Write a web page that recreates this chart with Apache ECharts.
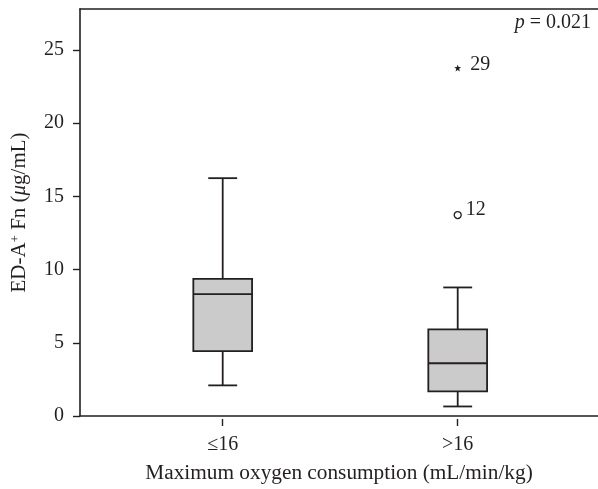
<!DOCTYPE html>
<html><head><meta charset="utf-8">
<script src="https://cdn.jsdelivr.net/npm/echarts@6/dist/echarts.min.js"></script>
<style>html,body{margin:0;padding:0;background:#fff}#c{width:598px;height:489px}</style>
</head><body><div id="c"></div>
<script>
const categories = ['≤16', '>16'];
const whiskerLow = [2.28, 0.85];
const q1 = [4.6, 1.87];
const median = [8.47, 3.78];
const q3 = [9.5, 6.08];
const whiskerHigh = [16.33, 8.92];
const outlierCircle = [{ value: [1, 13.83], name: '12' }];
const outlierStar = [{ value: [1, 23.8], name: '29' }];
const yTicks = [0, 5, 10, 15, 20, 25];
const yMax = 27.8;
const pValue = '0.021';

const FONT = '"Liberation Serif", "Times New Roman", serif';
const INK = '#231f20';

function renderBox(params, api) {
  const x = api.value(0);
  const lo = api.coord([x, api.value(1)]);
  const b = api.coord([x, api.value(2)]);
  const m = api.coord([x, api.value(3)]);
  const t = api.coord([x, api.value(4)]);
  const hi = api.coord([x, api.value(5)]);
  const band = api.size([1, 0])[0];
  const bw = band * 0.25, cw = band * 0.123;
  const cx = lo[0];
  const ls = { stroke: INK, lineWidth: 1.8, fill: null };
  return {
    type: 'group', children: [
      { type: 'line', shape: { x1: cx, y1: t[1], x2: cx, y2: hi[1] }, style: ls },
      { type: 'line', shape: { x1: cx, y1: b[1], x2: cx, y2: lo[1] }, style: ls },
      { type: 'line', shape: { x1: cx - cw / 2, y1: hi[1], x2: cx + cw / 2, y2: hi[1] }, style: ls },
      { type: 'line', shape: { x1: cx - cw / 2, y1: lo[1], x2: cx + cw / 2, y2: lo[1] }, style: ls },
      { type: 'rect', shape: { x: cx - bw / 2, y: t[1], width: bw, height: b[1] - t[1] },
        style: { fill: '#cbcbcb', stroke: INK, lineWidth: 1.8 } },
      { type: 'line', shape: { x1: cx - bw / 2, y1: m[1], x2: cx + bw / 2, y2: m[1] }, style: ls }
    ]
  };
}

const chart = echarts.init(document.getElementById('c'), null, { renderer: 'canvas' });
chart.setOption({
  animation: false,
  backgroundColor: '#fff',
  textStyle: { fontFamily: FONT, color: INK },
  grid: [
    { left: 80, right: 0, top: 9, bottom: 70 },
    { left: 105.2, right: 22.8, top: 9, bottom: 70 }
  ],
  xAxis: [
    { gridIndex: 0, type: 'value', min: 0, max: 1, position: 'bottom',
      axisLine: { show: true, lineStyle: { color: INK, width: 1.6 } },
      axisTick: { show: false }, axisLabel: { show: false }, splitLine: { show: false },
      name: 'Maximum oxygen consumption (mL/min/kg)', nameLocation: 'middle', nameGap: 47,
      nameTextStyle: { fontFamily: FONT, fontSize: 21.3, color: INK } },
    { gridIndex: 0, type: 'value', min: 0, max: 1, position: 'top',
      axisLine: { show: true, lineStyle: { color: INK, width: 1.6 } },
      axisTick: { show: false }, axisLabel: { show: false }, splitLine: { show: false } },
    { gridIndex: 1, type: 'category', data: categories, position: 'bottom',
      axisLine: { show: false },
      axisTick: { show: true, alignWithLabel: true, length: 7, lineStyle: { color: INK, width: 1.4 } },
      axisLabel: { fontFamily: FONT, fontSize: 20, color: INK, margin: 16 },
      splitLine: { show: false } }
  ],
  yAxis: [
    { gridIndex: 0, type: 'value', min: 0, max: yMax,
      axisLine: { show: true, lineStyle: { color: INK, width: 1.6 } },
      axisTick: { show: true, length: 7, customValues: yTicks, lineStyle: { color: INK, width: 1.4 } },
      axisLabel: { fontFamily: FONT, fontSize: 20, color: INK, margin: 16, customValues: yTicks },
      splitLine: { show: false },
      name: '{a|ED-A}{s|+}{a| Fn (}{i|μ}{a|g/mL)}', nameLocation: 'middle', nameGap: 50,
      nameTextStyle: { fontFamily: FONT, fontSize: 21, color: INK,
        rich: {
          a: { fontFamily: FONT, fontSize: 21, color: INK },
          s: { fontFamily: FONT, fontSize: 13, color: INK, verticalAlign: 'top' },
          i: { fontFamily: FONT, fontSize: 21, color: INK, fontStyle: 'italic' }
        } } },
    { gridIndex: 1, type: 'value', min: 0, max: yMax, show: false }
  ],
  graphic: [{
    type: 'text', right: 7, top: 13,
    style: {
      text: '{i|p} = ' + pValue,
      fontFamily: FONT, fontSize: 20, fill: INK,
      rich: { i: { fontFamily: FONT, fontSize: 20, fontStyle: 'italic', fill: INK } }
    }
  }],
  series: [
    { type: 'custom', xAxisIndex: 2, yAxisIndex: 1,
      data: categories.map((c, i) => [i, whiskerLow[i], q1[i], median[i], q3[i], whiskerHigh[i]]),
      encode: { x: 0, y: [1, 2, 3, 4, 5] },
      renderItem: renderBox },
    { type: 'scatter', xAxisIndex: 2, yAxisIndex: 1, data: outlierCircle,
      symbol: 'circle', symbolSize: 7,
      itemStyle: { color: '#fff', borderColor: INK, borderWidth: 1.3, opacity: 1 },
      label: { show: true, position: 'right', distance: 4, offset: [0, -5], formatter: '{b}',
        fontFamily: FONT, fontSize: 20, color: INK, opacity: 1 } },
    { type: 'scatter', xAxisIndex: 2, yAxisIndex: 1, data: outlierStar,
      symbol: 'path://M0,-10L2.35,-3.24L9.51,-3.09L3.8,1.24L5.88,8.09L0,4L-5.88,8.09L-3.8,1.24L-9.51,-3.09L-2.35,-3.24Z',
      symbolSize: 7,
      itemStyle: { color: INK, opacity: 1 },
      label: { show: true, position: 'right', distance: 9, offset: [0, -3], formatter: '{b}',
        fontFamily: FONT, fontSize: 20, color: INK, opacity: 1 } }
  ]
});
</script>
</body></html>
